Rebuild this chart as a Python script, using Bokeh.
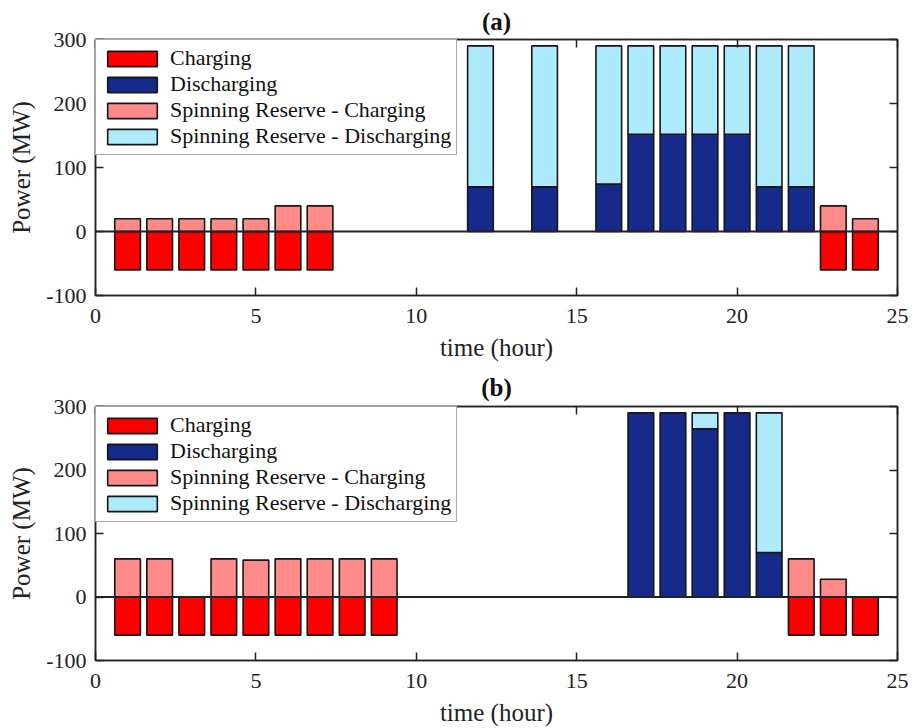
from bokeh.plotting import figure
from bokeh.models import Span, LinearAxis, Legend, LegendItem, ColumnDataSource, Range1d, FixedTicker
from bokeh.layouts import column
from bokeh.embed import file_html
from bokeh.resources import INLINE

hours = [1, 2, 3, 4, 5, 6, 7, 8, 9, 10, 11, 12, 13, 14, 15, 16, 17, 18, 19, 20, 21, 22, 23, 24]

# Panel (a)
charging_a = [-60, -60, -60, -60, -60, -60, -60, 0, 0, 0, 0, 0, 0, 0, 0, 0, 0, 0, 0, 0, 0, 0, -60, -60]
sr_charging_a = [20, 20, 20, 20, 20, 40, 40, 0, 0, 0, 0, 0, 0, 0, 0, 0, 0, 0, 0, 0, 0, 0, 40, 20]
discharging_a = [0, 0, 0, 0, 0, 0, 0, 0, 0, 0, 0, 70, 0, 70, 0, 74, 152, 152, 152, 152, 70, 70, 0, 0]
sr_discharging_a = [0, 0, 0, 0, 0, 0, 0, 0, 0, 0, 0, 220, 0, 220, 0, 216, 138, 138, 138, 138, 220, 220, 0, 0]

# Panel (b)
charging_b = [-60, -60, -60, -60, -60, -60, -60, -60, -60, 0, 0, 0, 0, 0, 0, 0, 0, 0, 0, 0, 0, -60, -60, -60]
sr_charging_b = [60, 60, 0, 60, 58, 60, 60, 60, 60, 0, 0, 0, 0, 0, 0, 0, 0, 0, 0, 0, 0, 60, 28, 0]
discharging_b = [0, 0, 0, 0, 0, 0, 0, 0, 0, 0, 0, 0, 0, 0, 0, 0, 290, 290, 265, 290, 70, 0, 0, 0]
sr_discharging_b = [0, 0, 0, 0, 0, 0, 0, 0, 0, 0, 0, 0, 0, 0, 0, 0, 0, 0, 25, 0, 220, 0, 0, 0]

x_ticks = [0, 5, 10, 15, 20, 25]
y_ticks = [-100, 0, 100, 200, 300]
y_tick_labels = {-100: "-100", 0: "0", 100: "100", 200: "200", 300: "300"}
series_names = ["Charging", "Discharging", "Spinning Reserve - Charging", "Spinning Reserve - Discharging"]
colors = ["#FF0000", "#152A8A", "#FF8A8A", "#ADEBFC"]

FONT = "Liberation Serif"


def src(xs, bottoms, tops):
    keep = [i for i in range(len(xs)) if tops[i] != bottoms[i]]
    return ColumnDataSource(dict(x=[xs[i] for i in keep],
                                 bottom=[bottoms[i] for i in keep],
                                 top=[tops[i] for i in keep]))


def make_panel(title, charging, sr_ch, dis, sr_dis, height, border_top, border_bottom, title_standoff):
    p = figure(width=910, height=height, x_range=Range1d(0, 25), y_range=Range1d(-100, 300),
               output_backend="svg", toolbar_location=None, title=title,
               min_border_left=95, min_border_right=13,
               min_border_top=border_top, min_border_bottom=border_bottom)
    p.grid.visible = False
    p.outline_line_color = "#222222"
    p.outline_line_width = 1.5
    p.background_fill_color = "white"
    p.border_fill_color = "white"

    p.title.text_font = FONT
    p.title.text_font_size = "25px"
    p.title.text_font_style = "bold"
    p.title.text_color = "#111111"
    p.title.align = "center"
    p.title.standoff = title_standoff

    zeros = [0] * len(hours)
    sr_top = [d + s for d, s in zip(dis, sr_dis)]
    kw = dict(x="x", bottom="bottom", top="top", width=0.8, line_color="#161616", line_width=1.6)
    r_ch = p.vbar(source=src(hours, charging, zeros), fill_color=colors[0], **kw)
    r_dis = p.vbar(source=src(hours, zeros, dis), fill_color=colors[1], **kw)
    r_src = p.vbar(source=src(hours, zeros, sr_ch), fill_color=colors[2], **kw)
    r_srd = p.vbar(source=src(hours, dis, sr_top), fill_color=colors[3], **kw)

    p.add_layout(Span(location=0, dimension="width", line_color="#222222", line_width=1.8))

    for ax, ticks in ((p.xaxis[0], x_ticks), (p.yaxis[0], y_ticks)):
        ax.ticker = FixedTicker(ticks=ticks)
        ax.major_tick_in = 8
        ax.major_tick_out = 0
        ax.minor_tick_line_color = None
        ax.axis_line_color = "#222222"
        ax.axis_line_width = 1.5
        ax.major_tick_line_width = 1.5
        ax.major_tick_line_color = "#222222"
        ax.major_label_text_font = FONT
        ax.major_label_text_font_size = "22px"
        ax.major_label_text_color = "#222222"
        ax.axis_label_text_font = FONT
        ax.axis_label_text_font_size = "25px"
        ax.axis_label_text_font_style = "normal"
        ax.axis_label_text_color = "#222222"
    p.yaxis[0].major_label_overrides = y_tick_labels
    p.xaxis[0].axis_label = "time (hour)"
    p.xaxis[0].major_label_standoff = 13
    p.xaxis[0].axis_label_standoff = 8
    p.yaxis[0].axis_label = "Power (MW)"
    p.yaxis[0].major_label_standoff = 9
    p.yaxis[0].axis_label_standoff = 8

    for loc, ticks in (("above", x_ticks), ("right", y_ticks)):
        ax = LinearAxis(ticker=FixedTicker(ticks=ticks), major_tick_in=8, major_tick_out=0,
                        minor_tick_line_color=None, axis_line_color="#222222", axis_line_width=1.5,
                        major_tick_line_width=1.5, major_tick_line_color="#222222",
                        major_label_text_font_size="1px", major_label_text_color=None,
                        major_label_standoff=0)
        p.add_layout(ax, loc)

    legend = Legend(items=[LegendItem(label=series_names[0], renderers=[r_ch]),
                           LegendItem(label=series_names[1], renderers=[r_dis]),
                           LegendItem(label=series_names[2], renderers=[r_src]),
                           LegendItem(label=series_names[3], renderers=[r_srd])],
                    location="top_left")
    legend.margin = 0
    legend.padding = 5
    legend.spacing = 0
    legend.glyph_width = 62
    legend.glyph_height = 19
    legend.label_standoff = 7
    legend.label_text_font = FONT
    legend.label_text_font_size = "22px"
    legend.label_text_color = "#111111"
    legend.border_line_color = "#555555"
    legend.border_line_width = 1.5
    legend.background_fill_alpha = 1
    p.add_layout(legend)
    return p


pa = make_panel("(a)", charging_a, sr_charging_a, discharging_a, sr_discharging_a, 364, 39, 69, 10)
pb = make_panel("(b)", charging_b, sr_charging_b, discharging_b, sr_discharging_b, 364, 42, 66, 12)

layout = column(pa, pb, spacing=0)
open("out.html", "w").write(file_html(layout, INLINE))
